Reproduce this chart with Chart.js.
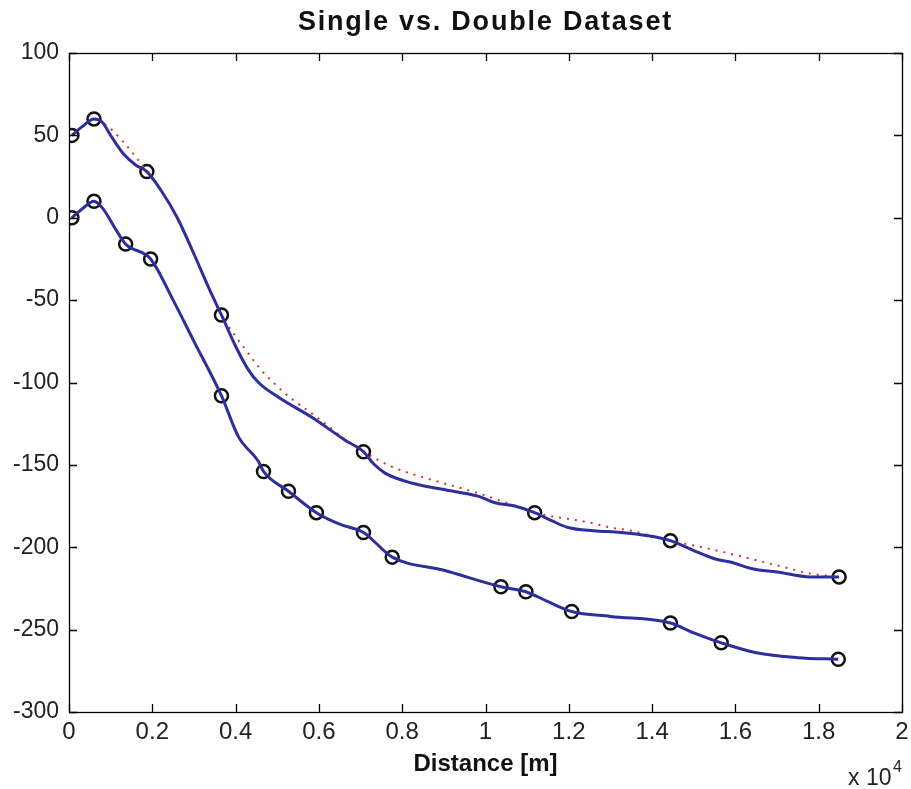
<!DOCTYPE html>
<html><head><meta charset="utf-8">
<script src="https://cdn.jsdelivr.net/npm/chart.js@4/dist/chart.umd.min.js"></script>
<style>html,body{margin:0;padding:0;background:#fff}</style>
</head><body>
<canvas id="c" width="911" height="789"></canvas>
<script>
const titleText = 'Single vs. Double Dataset';
const xAxisLabel = 'Distance [m]';
const xExponentBase = 'x 10';
const xExponentPower = '4';
const xTicks = [0, 0.2, 0.4, 0.6, 0.8, 1, 1.2, 1.4, 1.6, 1.8, 2];
const yTicks = [-300, -250, -200, -150, -100, -50, 0, 50, 100];

// distances in units of 10^4 m
const upperLineX = [0.007, 0.03, 0.06, 0.08, 0.10, 0.13, 0.16, 0.187, 0.22, 0.26, 0.30, 0.34, 0.366, 0.40, 0.43, 0.455, 0.503, 0.582, 0.663, 0.707, 0.73, 0.759, 0.822, 0.90, 0.982, 1.023, 1.07, 1.118, 1.16, 1.198, 1.26, 1.325, 1.39, 1.444, 1.50, 1.55, 1.588, 1.64, 1.70, 1.78, 1.849];
const upperLineY = [50, 55, 60, 58, 50, 39, 32, 28, 17, 0, -22, -45, -59, -78, -92, -100, -109, -121, -135, -142, -149, -155, -161, -165, -169, -173, -175, -179, -184, -188, -190, -191, -193, -196, -202, -207, -209, -213, -215, -218, -218];

const upperDotX = [0.007, 0.03, 0.06, 0.09, 0.127, 0.163, 0.187, 0.22, 0.26, 0.30, 0.34, 0.366, 0.43, 0.46, 0.503, 0.53, 0.60, 0.66, 0.707, 0.774, 0.87, 0.98, 1.05, 1.118, 1.166, 1.25, 1.30, 1.35, 1.444, 1.52, 1.605, 1.70, 1.78, 1.849];
const upperDotY = [50, 55, 60, 56, 47, 36, 28, 17, 0, -22, -45, -59, -82, -92, -103, -109, -122, -134, -142, -151, -159, -167, -173, -179, -181.5, -185, -188, -190, -196, -200, -205, -211, -216, -218];

const lowerLineX = [0.007, 0.03, 0.06, 0.08, 0.112, 0.136, 0.196, 0.25, 0.30, 0.366, 0.407, 0.455, 0.467, 0.527, 0.594, 0.65, 0.707, 0.776, 0.90, 1.037, 1.097, 1.15, 1.207, 1.30, 1.444, 1.50, 1.566, 1.65, 1.75, 1.847];
const lowerLineY = [0, 5, 10, 6, -7, -16, -25, -50, -75, -108, -133, -148, -154, -166, -179, -186, -191, -206, -214, -224, -227, -233, -239, -242, -246, -252, -258, -264, -267, -268];

const upperMarkX = [0.007, 0.06, 0.187, 0.366, 0.707, 1.118, 1.444, 1.849];
const upperMarkY = [50, 60, 28, -59, -142, -179, -196, -218];
const lowerMarkX = [0.007, 0.06, 0.136, 0.196, 0.366, 0.467, 0.527, 0.594, 0.707, 0.776, 1.037, 1.097, 1.207, 1.444, 1.566, 1.847];
const lowerMarkY = [0, 10, -16, -25, -108, -154, -166, -179, -191, -206, -224, -227, -239, -246, -258, -268];

const pts = (xs, ys) => xs.map((x, i) => ({x: x, y: ys[i]}));

const BLUE = '#2e2f9c';
const RED = '#e0302a';
const SANS = '"Liberation Sans", Arial, sans-serif';

const lineDs = (data) => ({
  data, borderColor: BLUE, borderWidth: 3, pointRadius: 0, fill: false,
  cubicInterpolationMode: 'monotone', showLine: true
});
const dotDs = (data) => ({
  data, borderColor: RED, borderWidth: 2, borderDash: [2, 6], pointRadius: 0, fill: false,
  cubicInterpolationMode: 'monotone', showLine: true
});
const markDs = (data) => ({
  data, showLine: false, pointStyle: 'circle', pointRadius: 6.5, pointBorderWidth: 2.5,
  pointBorderColor: '#111', pointBackgroundColor: 'rgba(0,0,0,0)', pointHoverRadius: 6.5
});

const frame = {
  id: 'frame',
  afterDraw(chart) {
    const ctx = chart.ctx, a = chart.chartArea;
    const xs = chart.scales.x, ys = chart.scales.y;
    ctx.save();
    ctx.strokeStyle = '#000';
    ctx.lineWidth = 1.3;
    ctx.strokeRect(a.left + 0.5, a.top + 0.5, a.right - a.left, a.bottom - a.top);
    const L = 8;
    ctx.beginPath();
    xTicks.forEach(v => {
      const px = Math.round(xs.getPixelForValue(v)) + 0.5;
      ctx.moveTo(px, a.bottom); ctx.lineTo(px, a.bottom - L);
      ctx.moveTo(px, a.top); ctx.lineTo(px, a.top + L);
    });
    yTicks.forEach(v => {
      const py = Math.round(ys.getPixelForValue(v)) + 0.5;
      ctx.moveTo(a.left, py); ctx.lineTo(a.left + L, py);
      ctx.moveTo(a.right, py); ctx.lineTo(a.right - L, py);
    });
    ctx.stroke();
    // title
    ctx.fillStyle = '#111';
    ctx.textAlign = 'center';
    ctx.textBaseline = 'middle';
    ctx.font = 'bold 27px ' + SANS;
    try { ctx.letterSpacing = '1.8px'; } catch (e) {}
    ctx.fillText(titleText, (a.left + a.right) / 2, 23);
    try { ctx.letterSpacing = '0px'; } catch (e) {}
    // exponent
    ctx.font = '23px ' + SANS;
    ctx.textAlign = 'left';
    ctx.textBaseline = 'alphabetic';
    ctx.fillStyle = '#222';
    ctx.fillText(xExponentBase, 848, 785);
    ctx.font = '16px ' + SANS;
    ctx.fillText(xExponentPower, 893, 772);
    ctx.restore();
  }
};

new Chart(document.getElementById('c'), {
  type: 'scatter',
  data: {
    datasets: [
      lineDs(pts(upperLineX, upperLineY)),
      lineDs(pts(lowerLineX, lowerLineY)),
      dotDs(pts(upperDotX, upperDotY)),
      dotDs(pts(lowerLineX, lowerLineY)),
      markDs(pts(upperMarkX, upperMarkY)),
      markDs(pts(lowerMarkX, lowerMarkY))
    ]
  },
  options: {
    responsive: false,
    animation: false,
    events: [],
    layout: { padding: { top: 53, right: 0, left: 0, bottom: 0 } },
    plugins: { legend: { display: false }, tooltip: { enabled: false }, title: { display: false } },
    scales: {
      x: {
        type: 'linear', min: 0, max: 2,
        afterBuildTicks: s => { s.ticks = xTicks.map(v => ({value: v})); },
        afterFit: s => { s.height = 77; s.paddingRight = 7; s.paddingLeft = 0; },
        grid: { display: false, drawTicks: false },
        border: { display: false },
        ticks: {
          padding: 6, color: '#222', maxRotation: 0, autoSkip: false,
          font: { family: SANS, size: 24 },
          callback: v => String(Math.round(v * 10) / 10)
        },
        title: {
          display: true, text: xAxisLabel, color: '#111',
          font: { family: SANS, size: 24, weight: 'bold' },
          padding: { top: 0, bottom: 10 }
        }
      },
      y: {
        type: 'linear', min: -300, max: 100,
        afterBuildTicks: s => { s.ticks = yTicks.map(v => ({value: v})); },
        afterFit: s => { s.width = 69; },
        grid: { display: false, drawTicks: false },
        border: { display: false },
        ticks: {
          padding: 10, color: '#222', autoSkip: false,
          font: { family: SANS, size: 23 }
        }
      }
    }
  },
  plugins: [frame]
});
</script>
</body></html>
